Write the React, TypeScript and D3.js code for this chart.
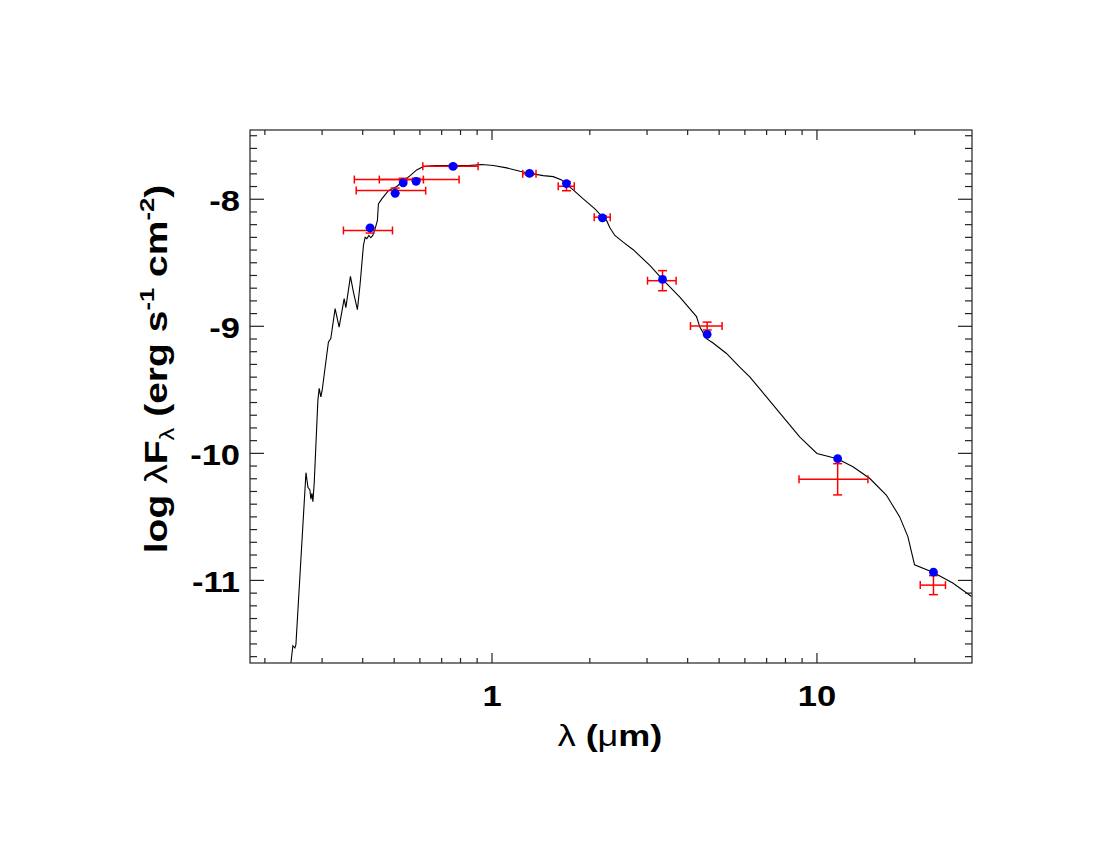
import React, { useEffect, useRef } from 'react';
import * as d3 from 'd3';

// photometry (observed): wavelength in micron, log lambda F_lambda
const obsWave = [0.4215, 0.5035, 0.533, 0.584, 0.759, 1.3045, 1.695, 2.187, 3.348, 4.593, 11.58, 22.83];
const obsWaveLo = [0.349, 0.382, 0.45, 0.377, 0.6125, 1.243, 1.599, 2.063, 3.01, 4.081, 8.806, 20.79];
const obsWaveHi = [0.494, 0.625, 0.615, 0.792, 0.906, 1.366, 1.791, 2.311, 3.686, 5.105, 14.35, 24.86];
const obsFlux = [-8.246, -7.932, -7.845, -7.845, -7.741, -7.8, -7.898, -8.141, -8.641, -8.998, -10.204, -11.037];
const obsErr = [0.02, 0.02, 0.01, 0.01, 0.01, 0.01, 0.035, 0.01, 0.079, 0.031, 0.123, 0.075];
// model synthetic photometry
const modelFlux = [-8.225, -7.953, -7.871, -7.859, -7.741, -7.796, -7.877, -8.146, -8.631, -9.063, -10.042, -10.935];

// model spectrum
const specWave = [
  0.2395, 0.2405, 0.2439, 0.2474, 0.2492, 0.2676, 0.2714, 0.2752, 0.2771, 0.2791, 0.2811, 0.2837,
  0.2912, 0.2939, 0.2974, 0.3002, 0.3138, 0.3191, 0.329, 0.3385, 0.3508, 0.355, 0.3667, 0.3746,
  0.3853, 0.3928, 0.4021, 0.407, 0.4119, 0.4178, 0.4237, 0.4297, 0.4367, 0.444, 0.4471, 0.458,
  0.48, 0.5093, 0.5279, 0.5598, 0.5867, 0.6148, 0.6679, 0.7517, 0.8456, 0.9297, 1.0092, 1.1098,
  1.219, 1.3024, 1.4381, 1.5433, 1.6379, 1.6885, 1.7779, 1.9088, 2.0734, 2.1893, 2.2522, 2.3053,
  2.3883, 2.533, 2.7196, 3.0601, 3.3483, 3.7848, 4.26, 4.3604, 4.5709, 4.7895, 5.2674, 5.7862,
  6.2111, 6.9907, 7.8634, 8.8467, 10.0, 11.554, 12.902, 14.521, 16.345, 17.958, 19.045, 19.968,
  22.731, 26.184, 29.9,
];
const specFlux = [
  -11.75, -11.65, -11.514, -11.532, -11.506, -10.152, -10.267, -10.288, -10.361, -10.314, -10.38, -10.236,
  -9.581, -9.489, -9.555, -9.503, -9.123, -9.097, -8.861, -9.006, -8.782, -8.853, -8.607, -8.731,
  -8.869, -8.665, -8.364, -8.299, -8.311, -8.285, -8.303, -8.285, -8.233, -8.167, -8.036, -7.997,
  -7.932, -7.9, -7.866, -7.814, -7.769, -7.743, -7.735, -7.735, -7.735, -7.727, -7.735, -7.753,
  -7.78, -7.796, -7.814, -7.822, -7.848, -7.879, -7.926, -7.997, -8.075, -8.141, -8.167, -8.225,
  -8.285, -8.338, -8.397, -8.521, -8.631, -8.77, -8.924, -9.006, -9.097, -9.131, -9.214, -9.322,
  -9.398, -9.555, -9.713, -9.87, -10.001, -10.042, -10.105, -10.196, -10.328, -10.498, -10.655, -10.877,
  -10.935, -11.021, -11.127,
];

const xMajor = [1, 10];
const yMajor = [-8, -9, -10, -11];

const W = 1100, H = 850;
const L = 250, R = 972, T = 130, B = 663;
const FONT = '"Liberation Sans", Arial, Helvetica, sans-serif';

export default function App() {
  const ref = useRef<SVGSVGElement>(null);

  useEffect(() => {
    const svg = d3.select(ref.current);
    svg.selectAll('*').remove();

    const x = d3.scaleLog().domain([0.18, 30]).range([L, R]);
    const y = d3.scaleLinear().domain([-11.65, -7.455]).range([B, T]);

    svg.append('defs').append('clipPath').attr('id', 'plotclip')
      .append('rect').attr('x', L).attr('y', T).attr('width', R - L).attr('height', B - T);

    // spectrum
    const pts = specWave.map((w, i) => [w, specFlux[i]] as [number, number]);
    const line = d3.line<[number, number]>().x(d => x(d[0])).y(d => y(d[1]));
    svg.append('path').datum(pts).attr('d', line).attr('fill', 'none')
      .attr('stroke', '#000').attr('stroke-width', 1.1).attr('clip-path', 'url(#plotclip)');

    // error bars
    const eb = svg.append('g').attr('stroke', '#ff0000').attr('stroke-width', 1.5).attr('fill', 'none');
    obsWave.forEach((w, i) => {
      const cy = y(obsFlux[i]);
      const x0 = x(obsWaveLo[i]), x1 = x(obsWaveHi[i]), cx = x(w);
      eb.append('line').attr('x1', x0).attr('x2', x1).attr('y1', cy).attr('y2', cy);
      eb.append('line').attr('x1', x0).attr('x2', x0).attr('y1', cy - 4).attr('y2', cy + 4);
      eb.append('line').attr('x1', x1).attr('x2', x1).attr('y1', cy - 4).attr('y2', cy + 4);
      const y0 = y(obsFlux[i] - obsErr[i]), y1 = y(obsFlux[i] + obsErr[i]);
      eb.append('line').attr('x1', cx).attr('x2', cx).attr('y1', y0).attr('y2', y1);
      eb.append('line').attr('x1', cx - 4.5).attr('x2', cx + 4.5).attr('y1', y0).attr('y2', y0);
      eb.append('line').attr('x1', cx - 4.5).attr('x2', cx + 4.5).attr('y1', y1).attr('y2', y1);
    });

    // model points
    svg.append('g').selectAll('circle').data(obsWave).join('circle')
      .attr('cx', d => x(d)).attr('cy', (d, i) => y(modelFlux[i])).attr('r', 4.4)
      .attr('fill', '#0000ff');

    // frame
    svg.append('rect').attr('x', L).attr('y', T).attr('width', R - L).attr('height', B - T)
      .attr('fill', 'none').attr('stroke', '#222').attr('stroke-width', 1.2);

    const ax = svg.append('g').attr('stroke', '#222').attr('stroke-width', 1.2);
    x.ticks().forEach(t => {
      const len = xMajor.includes(t) ? 10 : 5;
      const px = x(t);
      if (px < L + 0.5 || px > R - 0.5) return;
      ax.append('line').attr('x1', px).attr('x2', px).attr('y1', B).attr('y2', B - len);
      ax.append('line').attr('x1', px).attr('x2', px).attr('y1', T).attr('y2', T + len);
    });
    d3.range(-116, -74).map(v => v / 10).forEach(t => {
      const major = yMajor.includes(t);
      const len = major ? 14 : 7;
      const py = y(t);
      ax.append('line').attr('x1', L).attr('x2', L + len).attr('y1', py).attr('y2', py);
      ax.append('line').attr('x1', R).attr('x2', R - len).attr('y1', py).attr('y2', py);
    });

    // tick labels (glyphs slightly widened like the original PostScript font)
    const lab = svg.append('g').attr('font-family', FONT).attr('font-weight', 'bold')
      .attr('font-size', 30).attr('fill', '#000');
    xMajor.forEach(t => {
      lab.append('text').attr('transform', `translate(${x(t)},706) scale(1.15,1)`)
        .attr('text-anchor', 'middle').text(String(t));
    });
    yMajor.forEach(t => {
      lab.append('text').attr('transform', `translate(240,${y(t) + 12}) scale(1.15,1)`)
        .attr('text-anchor', 'end').text(String(t));
    });

    // x title
    const xt = svg.append('text').attr('transform', 'translate(610,746) scale(1.2,1)')
      .attr('text-anchor', 'middle')
      .attr('font-family', FONT).attr('font-weight', 'bold').attr('font-size', 30);
    xt.append('tspan').attr('font-weight', 'normal').text('λ');
    xt.append('tspan').text(' (');
    xt.append('tspan').attr('font-weight', 'normal').text('μ');
    xt.append('tspan').text('m)');

    // y title
    const yt = svg.append('text').attr('transform', 'translate(167,369) rotate(-90) scale(1.22,1)')
      .attr('text-anchor', 'middle').attr('font-family', FONT).attr('font-weight', 'bold').attr('font-size', 32);
    yt.append('tspan').text('log ');
    yt.append('tspan').attr('font-weight', 'normal').text('λ');
    yt.append('tspan').text('F');
    yt.append('tspan').attr('font-weight', 'normal').attr('font-size', 21).attr('dy', 7).text('λ');
    yt.append('tspan').attr('dy', -7).text(' (erg s');
    yt.append('tspan').attr('font-size', 21).attr('dy', -13).text('-1');
    yt.append('tspan').attr('dy', 13).text(' cm');
    yt.append('tspan').attr('font-size', 21).attr('dy', -13).text('-2');
    yt.append('tspan').attr('dy', 13).text(')');
  }, []);

  return (
    <svg ref={ref} width={W} height={H} viewBox={`0 0 ${W} ${H}`}
      style={{ position: 'absolute', left: 0, top: 0, background: '#fff' }} />
  );
}
